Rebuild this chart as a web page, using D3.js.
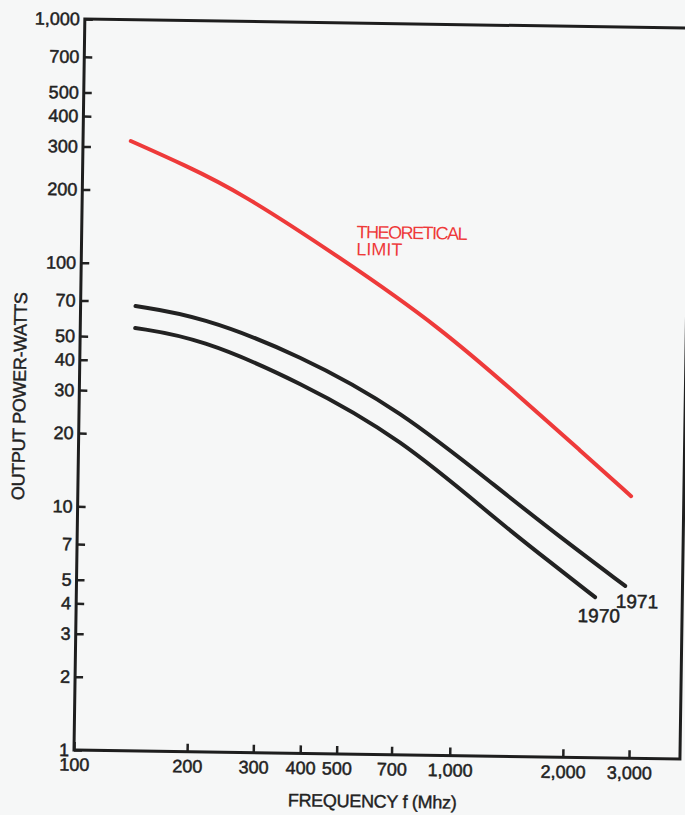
<!DOCTYPE html>
<html>
<head>
<meta charset="utf-8">
<script src="https://cdnjs.cloudflare.com/ajax/libs/d3/7.8.5/d3.min.js"></script>
<style>
  body { margin: 0; background: #f6f7f7; }
  text { font-family: "Liberation Sans", Arial, sans-serif; fill: #222; }
</style>
</head>
<body>
<div id="chart"></div>
<script>
// tick values on both log axes
const xTickValues = [100, 200, 300, 400, 500, 700, 1000, 2000, 3000];
const yTickValues = [1, 2, 3, 4, 5, 7, 10, 20, 30, 40, 50, 70, 100, 200, 300, 400, 500, 700, 1000];

// theoretical limit (red)
const freqLimit = [134, 187, 263, 488, 907, 1586, 2163, 2968];
const powerLimit = [318, 255, 199, 109, 57.3, 27.5, 18.2, 11.9];

// 1971 devices
const freq1971 = [140, 208, 385, 715, 1329, 1929, 2886];
const power1971 = [66.9, 61.4, 43.1, 26.0, 12.4, 8.0, 5.09];

// 1970 devices
const freq1970 = [140, 208, 386, 717, 1333, 1818, 2402];
const power1970 = [54.4, 49.9, 33.4, 20.0, 9.07, 6.31, 4.56];

const width = 685;
const height = 815;
const margin = {left: 74, top: 19};
const innerWidth = 606;
const innerHeight = 731;
const tilt = 0.85; // the scanned page is slightly rotated

const svg = d3.select('#chart').append('svg')
  .attr('width', width)
  .attr('height', height);

svg.append('rect')
  .attr('width', width)
  .attr('height', height)
  .attr('fill', '#f6f7f7');

const page = svg.append('g')
  .attr('transform', `rotate(${tilt},${margin.left},${margin.top + innerHeight})`);

const g = page.append('g')
  .attr('transform', `translate(${margin.left},${margin.top})`);

const xScale = d3.scaleLog()
  .domain([100, 4100])
  .range([0, innerWidth]);

const yScale = d3.scaleLog()
  .domain([1, 1000])
  .range([innerHeight, 0]);

const xAxis = d3.axisBottom(xScale)
  .tickValues(xTickValues)
  .tickFormat(d3.format(','))
  .tickSize(-8)
  .tickPadding(8);

const yAxis = d3.axisLeft(yScale)
  .tickValues(yTickValues)
  .tickFormat(d3.format(','))
  .tickSize(-8)
  .tickPadding(5);

const xAxisG = g.append('g')
  .attr('transform', `translate(0,${innerHeight})`)
  .call(xAxis);

const yAxisG = g.append('g')
  .call(yAxis);

[xAxisG, yAxisG].forEach(a => {
  a.select('.domain').remove();
  a.selectAll('.tick line').attr('stroke', '#222').attr('stroke-width', 2.5);
  a.selectAll('.tick text')
    .style('font-size', '18px')
    .style('font-family', '"Liberation Sans", Arial, sans-serif')
    .attr('fill', '#222')
    .attr('stroke', '#222')
    .attr('stroke-width', 0.5);
});

g.append('rect')
  .attr('width', innerWidth)
  .attr('height', innerHeight)
  .attr('fill', 'none')
  .attr('stroke', '#1e1e1e')
  .attr('stroke-width', 3);

const line = d3.line()
  .x(d => xScale(d[0]))
  .y(d => yScale(d[1]))
  .curve(d3.curveBasis);

const series = [
  {name: 'limit', freq: freqLimit, power: powerLimit, color: '#ee3a3a'},
  {name: '1971', freq: freq1971, power: power1971, color: '#222'},
  {name: '1970', freq: freq1970, power: power1970, color: '#222'}
];

series.forEach(s => {
  s.points = s.freq.map((f, i) => [f, s.power[i]]);
});

g.selectAll('path.curve').data(series)
  .enter().append('path')
  .attr('class', 'curve')
  .attr('d', d => line(d.points))
  .attr('fill', 'none')
  .attr('stroke', d => d.color)
  .attr('stroke-width', 4)
  .attr('stroke-linecap', 'round');

// year labels at the curve ends
const end = s => s.points[s.points.length - 1];
const s1971 = series[1];
const s1970 = series[2];

g.append('text')
  .attr('x', xScale(end(s1971)[0]) + 12)
  .attr('y', yScale(end(s1971)[1]) + 22)
  .attr('text-anchor', 'middle')
  .attr('stroke', '#222')
  .attr('stroke-width', 0.5)
  .style('font-size', '19px')
  .text('1971');

g.append('text')
  .attr('x', xScale(end(s1970)[0]) + 4)
  .attr('y', yScale(end(s1970)[1]) + 25)
  .attr('text-anchor', 'middle')
  .attr('stroke', '#222')
  .attr('stroke-width', 0.5)
  .style('font-size', '19px')
  .text('1970');

g.append('text')
  .attr('x', 275)
  .attr('y', 215)
  .attr('textLength', 111)
  .style('font-size', '18px')
  .style('fill', '#ee3a3a')
  .text('THEORETICAL');

g.append('text')
  .attr('x', 275)
  .attr('y', 232)
  .attr('textLength', 46)
  .style('font-size', '18px')
  .style('fill', '#ee3a3a')
  .text('LIMIT');

// axis titles
g.append('text')
  .attr('x', 299)
  .attr('y', 784)
  .attr('text-anchor', 'middle')
  .attr('textLength', 169)
  .attr('stroke', '#222')
  .attr('stroke-width', 0.4)
  .style('font-size', '18px')
  .text('FREQUENCY f (Mhz)');

g.append('text')
  .attr('transform', `translate(-60,378) rotate(-90)`)
  .attr('text-anchor', 'middle')
  .attr('dy', '0.35em')
  .attr('textLength', 208)
  .attr('stroke', '#222')
  .attr('stroke-width', 0.4)
  .style('font-size', '18px')
  .text('OUTPUT POWER-WATTS');
</script>
</body>
</html>
